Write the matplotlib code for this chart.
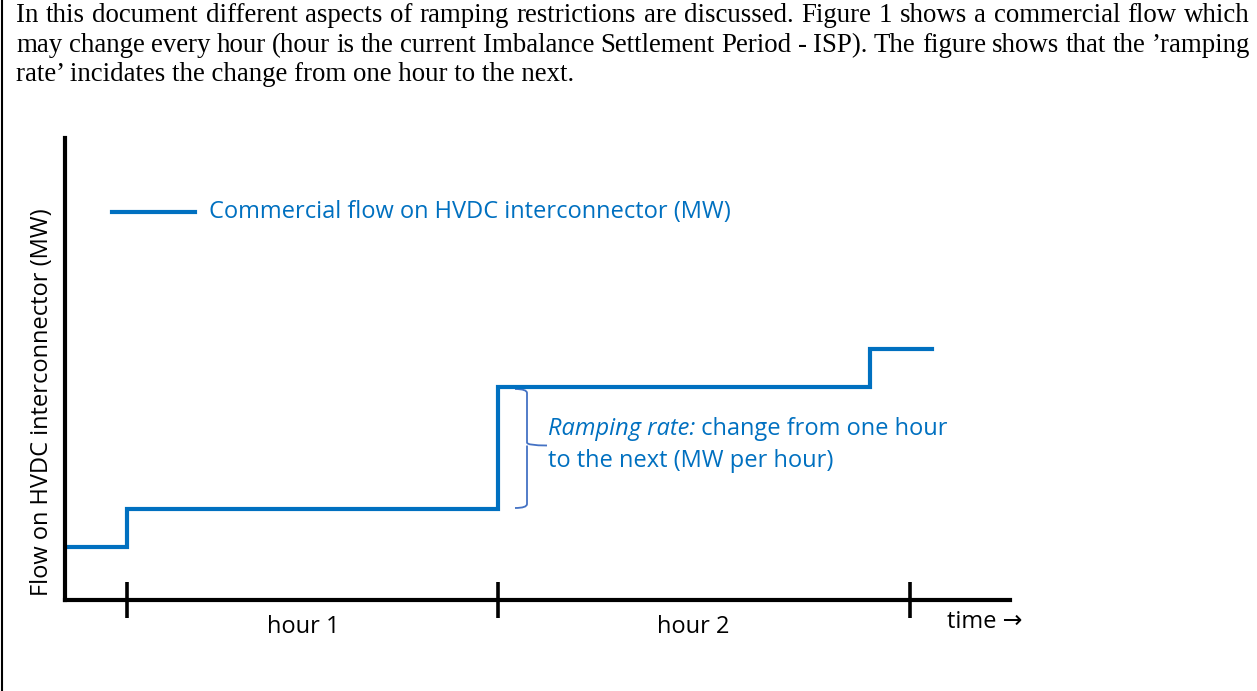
import matplotlib
matplotlib.use("Agg")
import matplotlib.pyplot as plt
from matplotlib.path import Path
from matplotlib.patches import PathPatch

# taille de l'image en pixels
W, H = 1257, 691

# texte d'introduction (justifié sauf la dernière ligne)
intro_lines = [
    "In this document different aspects of ramping restrictions are discussed. Figure 1 shows a commercial flow which",
    "may change every hour (hour is the current Imbalance Settlement Period - ISP). The figure shows that the \u2019ramping",
    "rate\u2019 incidates the change from one hour to the next.",
]

# données du schéma (unités arbitraires)
step_x = [0, 62, 433, 805, 867]
flow_mw = [53, 91, 213, 251, 251]
hour_ticks = [62, 433, 845]
hour_labels = ["hour 1", "hour 2"]
hour_label_x = [238, 628]

BLUE = "#0070C0"
BRACE = "#4472C4"
SANS = ["Open Sans", "DejaVu Sans"]
SERIF = ["Liberation Serif", "DejaVu Serif"]
FS = 17


def px(x, y):
    # pixels (origine en haut à gauche) -> fraction de figure
    return x / W, 1 - y / H


fig = plt.figure(figsize=(W / 100, H / 100), dpi=100)
fig.patch.set_facecolor("white")

# trait vertical à gauche (bord du cadre)
fig.add_artist(plt.Line2D([2 / W, 2 / W], [0, 1], color="black", lw=1.5,
                          transform=fig.transFigure))

# axes du schéma
x0, y0 = px(65, 600)
x1, y1 = px(1010, 138)
ax = fig.add_axes([x0, y0, x1 - x0, y1 - y0])
ax.set_xlim(0, 945)
ax.set_ylim(0, 462)
for s in ["top", "right"]:
    ax.spines[s].set_visible(False)
for s in ["left", "bottom"]:
    ax.spines[s].set_linewidth(3)
    ax.spines[s].set_capstyle("projecting")
ax.set_xticks(hour_ticks)
ax.set_xticklabels([])
ax.set_yticks([])
ax.tick_params(axis="x", direction="inout", length=26, width=2.6, color="black")

# flux commercial en escalier
ax.step(step_x, flow_mw, where="post", color=BLUE, lw=3, solid_joinstyle="miter")

# accolade du ramping rate
bx, tip = 462, 482
ytop, ybot = flow_mw[2] - 2, flow_mw[1] + 1
ymid = (ytop + ybot) / 2 + 3
verts = [(450, ytop), (462, ytop), (bx, ytop - 4),
         (bx, ymid + 3), (bx, ymid), (tip, ymid),
         (bx, ymid), (bx, ymid - 3), (bx, ybot + 4),
         (bx, ybot), (450, ybot)]
codes = [Path.MOVETO, Path.CURVE3, Path.CURVE3,
         Path.LINETO, Path.CURVE3, Path.CURVE3,
         Path.MOVETO, Path.CURVE3, Path.LINETO,
         Path.CURVE3, Path.CURVE3]
ax.add_patch(PathPatch(Path(verts, codes), fill=False, edgecolor=BRACE, lw=1.3))

# légende faite main
ax.plot([47, 130], [388, 388], color=BLUE, lw=3)
ax.text(144, 388, "Commercial flow on HVDC interconnector (MW)", color=BLUE,
        family=SANS, fontsize=FS, va="center", ha="left")

# texte ramping rate
t1 = ax.text(483, 165, "Ramping rate:", color=BLUE, family=SANS, fontsize=FS,
             style="italic", va="baseline")
ax.annotate(" change from one hour", xycoords=t1, xy=(1, 0), va="bottom",
            color=BLUE, family=SANS, fontsize=FS)
ax.text(483, 133, "to the next (MW per hour)", color=BLUE, family=SANS,
        fontsize=FS, va="baseline")

# étiquettes des heures et du temps
for lab, xl in zip(hour_labels, hour_label_x):
    ax.text(xl, -27, lab, family=SANS, fontsize=FS, ha="center", va="center")
ax.text(882, -22, "time \u2192", family=SANS, fontsize=FS, ha="left", va="center")

fig.text(*px(42, 402), "Flow on HVDC interconnector (MW)", family=SANS,
         fontsize=FS, rotation=90, ha="center", va="center")

# paragraphe justifié en haut
renderer = fig.canvas.get_renderer()
baselines = [22, 52, 81]
left, right = 16, 1250
for i, line in enumerate(intro_lines):
    words = line.split(" ")
    xb, yb = px(left, baselines[i])
    if i == len(intro_lines) - 1:
        fig.text(xb, yb, line, family=SERIF, fontsize=19.4, va="baseline")
        continue
    arts = [fig.text(0, yb, w, family=SERIF, fontsize=19.4, va="baseline") for w in words]
    widths = [a.get_window_extent(renderer).width for a in arts]
    gap = (right - left - sum(widths)) / (len(words) - 1)
    xpos = left
    for a, wd in zip(arts, widths):
        a.set_x(xpos / W)
        xpos += wd + gap

fig.savefig("out.png", dpi=100, facecolor="white")
